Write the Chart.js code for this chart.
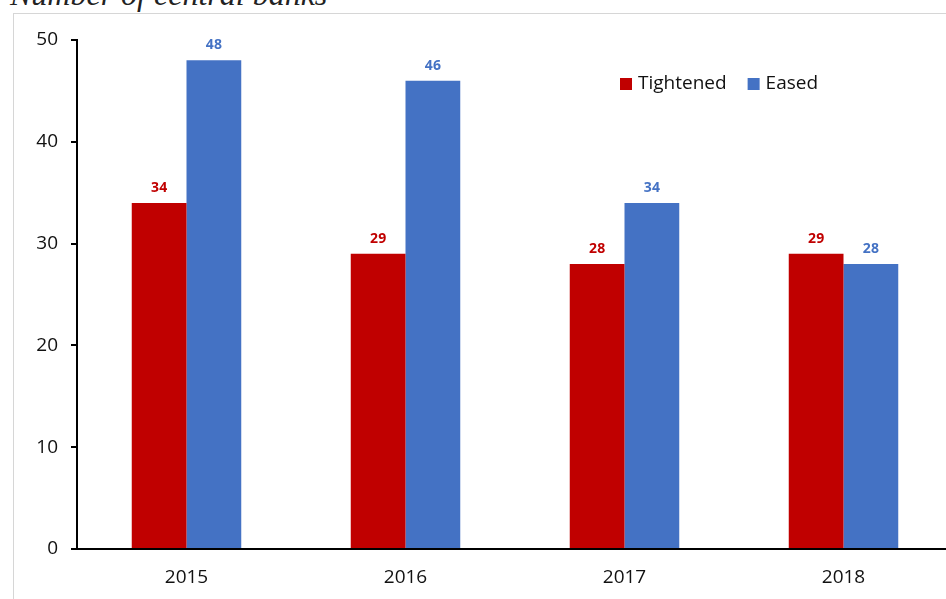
<!DOCTYPE html>
<html>
<head>
<meta charset="utf-8">
<script src="https://cdn.jsdelivr.net/npm/chart.js@4/dist/chart.umd.min.js"></script>
<style>
  html, body { margin: 0; padding: 0; width: 946px; height: 599px; overflow: hidden; background: #fff; }
  #frame { position: absolute; left: 13px; top: 13px; width: 1000px; height: 700px; border-left: 1.5px solid #d6d6d6; border-top: 1.5px solid #d6d6d6; }
  #title { position: absolute; left: 10px; top: -22px; line-height: 32px; font-family: "Liberation Serif", serif; font-style: italic; font-size: 32px; color: #222; white-space: nowrap; }
  #wrap { position: absolute; left: 0; top: 0; width: 960px; height: 599px; }
</style>
</head>
<body>
<div id="frame"></div>
<div id="title">Number of central banks</div>
<div id="wrap"><canvas id="c" width="960" height="599"></canvas></div>
<script>
const categories = ["2015", "2016", "2017", "2018"];
const tightened = [34, 29, 28, 29];
const eased = [48, 46, 34, 28];
const seriesNames = ["Tightened", "Eased"];
const seriesColors = ["#C00000", "#4472C4"];
const yTicks = [0, 10, 20, 30, 40, 50];

const FONT = '"Open Sans", "Liberation Sans", sans-serif';

const labelPlugin = {
  id: 'valueLabels',
  afterDatasetsDraw(chart) {
    const ctx = chart.ctx;
    ctx.save();
    ctx.font = 'bold 14px ' + FONT;
    ctx.textAlign = 'center';
    ctx.textBaseline = 'bottom';
    chart.data.datasets.forEach((ds, i) => {
      const meta = chart.getDatasetMeta(i);
      ctx.fillStyle = ds.backgroundColor;
      meta.data.forEach((bar, j) => {
        ctx.fillText(String(ds.data[j]), bar.x, bar.y - 8);
      });
    });
    ctx.restore();
  }
};

const legendPlugin = {
  id: 'customLegend',
  afterDraw(chart) {
    const ctx = chart.ctx;
    ctx.save();
    ctx.font = '19px ' + FONT;
    ctx.textBaseline = 'middle';
    let x = 620;
    const y = 84;
    chart.data.datasets.forEach((ds) => {
      ctx.fillStyle = ds.backgroundColor;
      ctx.fillRect(x, y - 6, 12, 12);
      ctx.fillStyle = '#111';
      ctx.fillText(ds.label, x + 18, y);
      x += 18 + ctx.measureText(ds.label).width + 21;
    });
    ctx.restore();
  }
};

new Chart(document.getElementById('c'), {
  type: 'bar',
  data: {
    labels: categories,
    datasets: [
      { label: seriesNames[0], data: tightened, backgroundColor: seriesColors[0] },
      { label: seriesNames[1], data: eased, backgroundColor: seriesColors[1] }
    ]
  },
  options: {
    responsive: false,
    animation: false,
    devicePixelRatio: 1,
    layout: { padding: { top: 40, right: 7, left: 0, bottom: 0 } },
    plugins: { legend: { display: false }, tooltip: { enabled: false } },
    datasets: { bar: { categoryPercentage: 0.5, barPercentage: 1.0 } },
    scales: {
      x: {
        grid: { display: false, drawTicks: false },
        border: { color: '#000', width: 2 },
        ticks: { color: '#111', font: { family: FONT, size: 19 }, padding: 17 },
        afterFit(s) { s.height = 50; }
      },
      y: {
        min: 0, max: 50,
        afterBuildTicks(s) { s.ticks = yTicks.map(v => ({ value: v })); },
        grid: { display: true, drawOnChartArea: false, drawTicks: true, tickLength: 6, color: '#000', lineWidth: 2 },
        border: { color: '#000', width: 2 },
        ticks: { color: '#111', font: { family: FONT, size: 19 }, padding: 13 },
        afterFit(s) { s.width = 77; }
      }
    }
  },
  plugins: [labelPlugin, legendPlugin]
});
</script>
</body>
</html>
